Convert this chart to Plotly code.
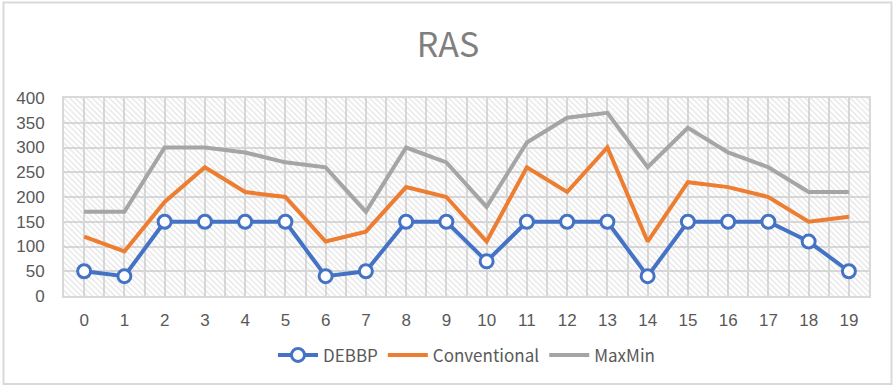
import plotly.graph_objects as go

x_cats = list(range(20))
debbp = [50, 40, 150, 150, 150, 150, 40, 50, 150, 150, 70, 150, 150, 150, 40, 150, 150, 150, 110, 50]
conventional = [120, 90, 190, 260, 210, 200, 110, 130, 220, 200, 110, 260, 210, 300, 110, 230, 220, 200, 150, 160]
maxmin = [170, 170, 300, 300, 290, 270, 260, 170, 300, 270, 180, 310, 360, 370, 260, 340, 290, 260, 210, 210]

x_range = [-0.5, 19.5]
y_range = [0, 400]

tick_font = dict(family="Liberation Sans, Arial", size=17, color="#595959")
grid_col = "#d9d9d9"

fig = go.Figure()

# hatched plot-area background (transparent so the grid shows through)
fig.add_trace(go.Scatter(
    x=[x_range[0], x_range[1], x_range[1], x_range[0], x_range[0]],
    y=[y_range[0], y_range[0], y_range[1], y_range[1], y_range[0]],
    mode="none", fill="toself", fillcolor="rgba(0,0,0,0)",
    fillpattern=dict(shape="\\", fgcolor="#c8c8c8", bgcolor="rgba(0,0,0,0)", size=4, solidity=0.3),
    showlegend=False, hoverinfo="skip"))

fig.add_trace(go.Scatter(x=x_cats, y=debbp, name="DEBBP", mode="lines+markers",
                         line=dict(color="#4472C4", width=4),
                         marker=dict(symbol="circle", size=13, color="white",
                                     line=dict(color="#4472C4", width=3))))
fig.add_trace(go.Scatter(x=x_cats, y=conventional, name="Conventional", mode="lines",
                         line=dict(color="#ED7D31", width=4)))
fig.add_trace(go.Scatter(x=x_cats, y=maxmin, name="MaxMin", mode="lines",
                         line=dict(color="#A5A5A5", width=4)))

fig.update_layout(
    width=896, height=389,
    margin=dict(l=64, r=27, t=98, b=93, autoexpand=False),
    paper_bgcolor="white", plot_bgcolor="white",
    title=dict(text="RAS", x=0.5, xanchor="center", y=0.885, yanchor="middle",
               font=dict(family="Noto Sans CJK SC, Noto Sans", size=34, color="#7f7f7f")),
    legend=dict(orientation="h", x=0.5, xanchor="center", y=-0.3, yanchor="middle",
                font=dict(family="Noto Sans CJK SC, Noto Sans", size=17, color="#595959"),
                itemwidth=40, tracegroupgap=0),
    xaxis=dict(range=x_range, tickmode="linear", tick0=0, dtick=1, automargin=False,
               showgrid=True, gridcolor=grid_col, gridwidth=2,
               minor=dict(dtick=0.5, tick0=0.5, showgrid=True, gridcolor=grid_col, gridwidth=2),
               showline=True, linecolor=grid_col, linewidth=2, mirror=True,
               zeroline=False, tickfont=tick_font, ticklabelstandoff=8),
    yaxis=dict(range=y_range, dtick=50, showgrid=True, gridcolor=grid_col, gridwidth=2,
               automargin=False,
               showline=True, linecolor=grid_col, linewidth=2, mirror=True,
               zeroline=False, tickfont=tick_font, ticklabelstandoff=14),
    shapes=[dict(type="rect", xref="paper", yref="paper",
                 x0=(3.5 - 64) / 805, x1=(891.5 - 64) / 805,
                 y0=(296 - 384) / 198, y1=(296 - 2.5) / 198,
                 line=dict(color="#d9d9d9", width=2), fillcolor="rgba(0,0,0,0)", layer="below")],
)

fig.write_html("out.html", config={"displayModeBar": False},
               post_script="document.body.style.margin='0';")
